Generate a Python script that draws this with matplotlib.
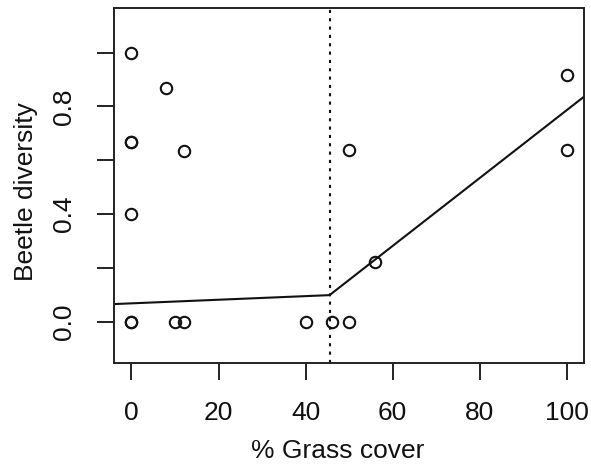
import matplotlib
matplotlib.use("Agg")
import matplotlib.pyplot as plt
import numpy as np

plt.rcParams['font.family'] = ['Liberation Sans', 'DejaVu Sans']

# observations
grass = [0, 8, 0, 0, 12, 0, 0, 0, 10, 12, 40, 46, 50, 50, 56, 100, 100]
beetle = [1.0, 0.867, 0.667, 0.667, 0.636, 0.4, 0.0, 0.0, 0.0, 0.0, 0.0, 0.0, 0.0, 0.64, 0.222, 0.917, 0.64]

# segmented fit
breakpoint = 45.5
intercept = 0.0694
slope_left = 0.00067
slope_right = 0.0126

xticks = [0, 20, 40, 60, 80, 100]
yticks = [0.0, 0.2, 0.4, 0.6, 0.8, 1.0]
ylabels = ['0.0', '', '0.4', '', '0.8', '']

fig = plt.figure(figsize=(5.91, 4.68), dpi=100)
ax = fig.add_axes([114/591, 1 - 363.3/468, (584.3-114)/591, (363.3-8.3)/468])

ax.plot(grass, beetle, 'o', mfc='none', mec='#111111', ms=8.2, mew=1.5, zorder=3)

fx = np.array([-10, breakpoint, 120])
y_bp = intercept + slope_left*breakpoint
fy = np.where(fx <= breakpoint, intercept + slope_left*fx, y_bp + slope_right*(fx - breakpoint))
ax.plot(fx, fy, color='#111111', lw=1.5)

ax.axvline(breakpoint, color='#111111', lw=1.5, linestyle=(0, (1.5, 2.5)))

ax.set_xlim(-4, 104)
ax.set_ylim(-0.153, 1.164)

ax.set_xticks(xticks)
ax.set_xticklabels([str(t) for t in xticks])
ax.set_yticks(yticks)
ax.set_yticklabels(ylabels, rotation=90, va='center')

ax.tick_params(direction='out', length=12.2, width=1.4, pad=15, labelsize=19, color='#222222', labelcolor='#111111')
for s in ax.spines.values():
    s.set_linewidth(1.4)
    s.set_color('#222222')

ax.set_xlabel('% Grass cover', fontsize=19, labelpad=10, color='#111111')
ax.set_ylabel('Beetle diversity', fontsize=19, labelpad=10, color='#111111')
ax.xaxis.label.set_x(0.475)
ax.yaxis.label.set_y(0.4825)

fig.savefig('out.png', dpi=100)
